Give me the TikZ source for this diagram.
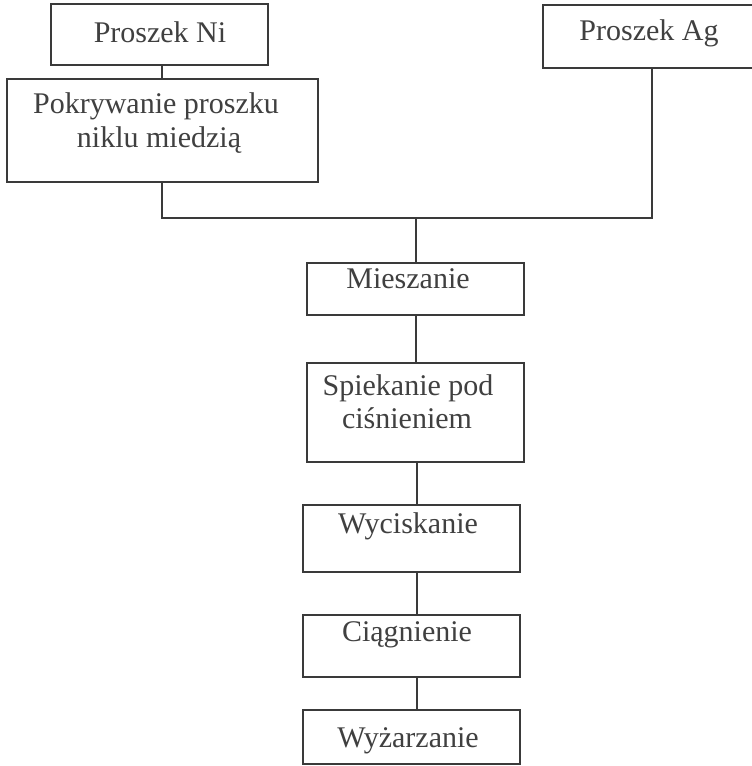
\documentclass[tikz,border=0pt]{standalone}
\usepackage{fontspec}
\setmainfont{Liberation Serif}
\definecolor{ln}{HTML}{3A3A3A}
\definecolor{tx}{HTML}{404040}
\begin{document}
\begin{tikzpicture}[x=1pt,y=-1pt,
  box/.style={draw=ln,line width=1.8pt,rectangle,inner sep=0pt,outer sep=0pt,anchor=north west},
  lbl/.style={text=tx,font=\fontsize{30}{33}\selectfont,inner sep=0pt,align=center},
  conn/.style={draw=ln,line width=1.8pt}]
\useasboundingbox (0,0) rectangle (752,766);
\fill[white] (0,0) rectangle (752,766);
% boxes
\node[box,minimum width=217pt,minimum height=61pt] (ni) at (51,4) {};
\node[box,minimum width=311pt,minimum height=103pt] (pok) at (7,79) {};
\node[box,minimum width=217pt,minimum height=63pt] (ag) at (543,5) {};
\node[box,minimum width=217pt,minimum height=52pt] (mies) at (307,263) {};
\node[box,minimum width=217pt,minimum height=99pt] (spiek) at (307,363) {};
\node[box,minimum width=217pt,minimum height=67pt] (wyc) at (303,505) {};
\node[box,minimum width=217pt,minimum height=62pt] (ciag) at (303,615) {};
\node[box,minimum width=217pt,minimum height=54pt] (wyz) at (303,710) {};
% texts
\node[lbl,anchor=base] (tni) at (160,42) {Proszek Ni};
\node[lbl,anchor=base] (tpok1) at (156,113) {Pokrywanie proszku};
\node[lbl,anchor=base] (tpok2) at (159,147) {niklu miedzią};
\node[lbl,anchor=base] (tag) at (649,40) {Proszek Ag};
\node[lbl,anchor=base] (tmies) at (408,288) {Mieszanie};
\node[lbl,anchor=base] (tsp1) at (408,395) {Spiekanie pod};
\node[lbl,anchor=base] (tsp2) at (407,428) {ciśnieniem};
\node[lbl,anchor=base] (twyc) at (408,533) {Wyciskanie};
\node[lbl,anchor=base] (tciag) at (407,641) {Ciągnienie};
\node[lbl,anchor=base] (twyz) at (408,747) {Wyżarzanie};
% connectors
\coordinate (pj) at (162,218);
\coordinate (j) at (416,218);
\coordinate (aj) at (652,218);
\coordinate (lo) at (417,500);
\draw[conn] (pj |- ni.south) -- (pj |- pok.north);
\draw[conn] (pj |- pok.south) -- (pj) -- (aj) -- (aj |- ag.south);
\draw[conn] (j) -- (j |- mies.north);
\draw[conn] (j |- mies.south) -- (j |- spiek.north);
\draw[conn] (lo |- spiek.south) -- (lo |- wyc.north);
\draw[conn] (lo |- wyc.south) -- (lo |- ciag.north);
\draw[conn] (lo |- ciag.south) -- (lo |- wyz.north);
\end{tikzpicture}
\end{document}
